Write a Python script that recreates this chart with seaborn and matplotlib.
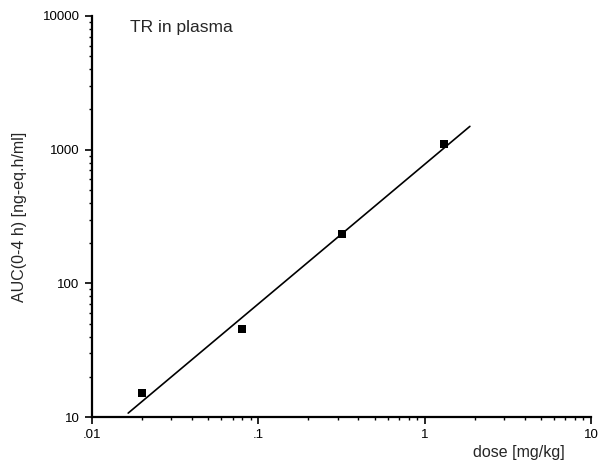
import numpy as np
import pandas as pd
import matplotlib
matplotlib.use("Agg")
import matplotlib.pyplot as plt
import matplotlib.ticker as mticker
import seaborn as sns

# data
dose = [0.02, 0.08, 0.32, 1.3]
auc = [15, 45.5, 234, 1100]
fit_dose_range = [0.0165, 1.87]
x_ticks = [0.01, 0.1, 1, 10]
x_tick_labels = [".01", ".1", "1", "10"]
y_ticks = [10, 100, 1000, 10000]
y_tick_labels = ["10", "100", "1000", "10000"]

sns.set_style("ticks")
plt.rcParams["font.family"] = ["Liberation Sans", "DejaVu Sans"]

df = pd.DataFrame({"dose": dose, "auc": auc})
slope, intercept = np.polyfit(np.log10(dose), np.log10(auc), 1)
fx = np.array(fit_dose_range)
fit_df = pd.DataFrame({"dose": fx, "auc": 10 ** (intercept + slope * np.log10(fx))})

fig = plt.figure(figsize=(5.99, 4.72), dpi=100)
ax = fig.add_axes([92 / 599, 1 - 417 / 472, (591 - 92) / 599, (417 - 16) / 472])

sns.lineplot(data=fit_df, x="dose", y="auc", ax=ax, color="black", linewidth=1.2)
sns.scatterplot(data=df, x="dose", y="auc", ax=ax, marker="s", s=38, color="black",
                edgecolor="black", linewidth=0, zorder=3)

ax.set_xscale("log")
ax.set_yscale("log")
ax.set_xlim(0.01, 10)
ax.set_ylim(10, 10000)

ax.xaxis.set_major_locator(mticker.FixedLocator(x_ticks))
ax.xaxis.set_major_formatter(mticker.FixedFormatter(x_tick_labels))
ax.yaxis.set_major_locator(mticker.FixedLocator(y_ticks))
ax.yaxis.set_major_formatter(mticker.FixedFormatter(y_tick_labels))
ax.xaxis.set_minor_locator(mticker.LogLocator(base=10, subs=np.arange(2, 10)))
ax.yaxis.set_minor_locator(mticker.LogLocator(base=10, subs=np.arange(2, 10)))
ax.xaxis.set_minor_formatter(mticker.NullFormatter())
ax.yaxis.set_minor_formatter(mticker.NullFormatter())

ax.tick_params(which="major", direction="out", length=5, width=1.2, labelsize=9.5,
               colors="black", pad=4)
ax.tick_params(which="minor", direction="out", length=2.5, width=1.0, colors="black")

sns.despine(ax=ax)
for s in ["left", "bottom"]:
    ax.spines[s].set_linewidth(1.6)
    ax.spines[s].set_color("black")

ax.set_xlabel("")
ax.set_ylabel("AUC(0-4 h) [ng-eq.h/ml]", fontsize=11.5, labelpad=11)
fig.text(565 / 599, 1 - 453 / 472, "dose [mg/kg]", fontsize=11.5, ha="right", va="center")
ax.text((130 - 92) / 499, 1 - (32 - 16) / 401, "TR in plasma", transform=ax.transAxes,
        fontsize=12.5, ha="left", va="baseline")

fig.savefig("out.png", dpi=100)
